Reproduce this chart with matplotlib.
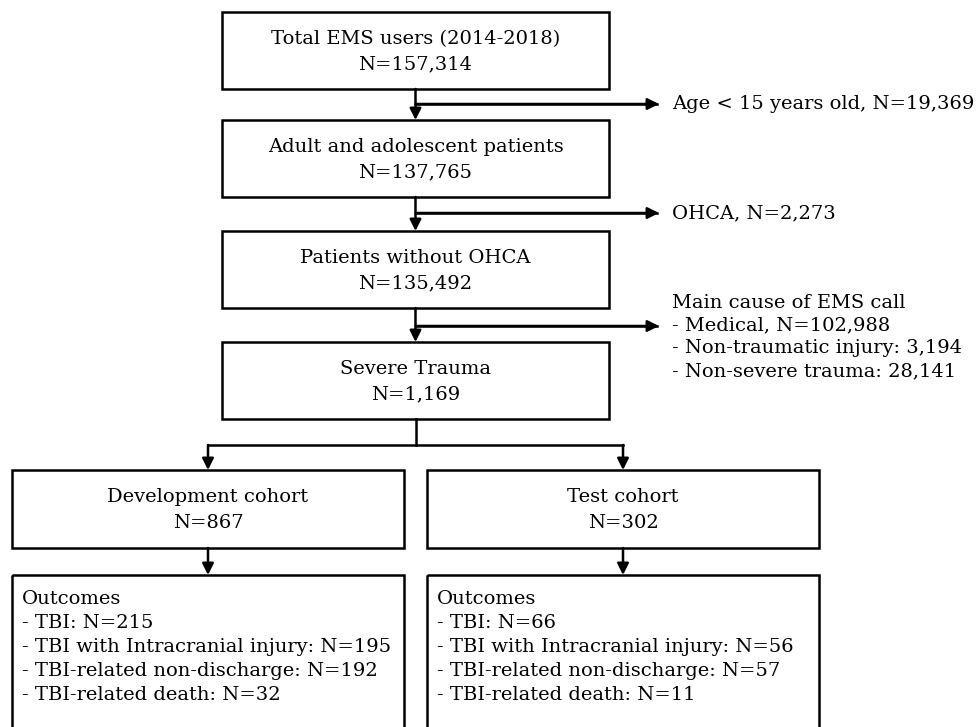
import matplotlib.pyplot as plt
from matplotlib.patches import Rectangle

# 主流程框内容
main_titles = ['Total EMS users (2014-2018)', 'Adult and adolescent patients',
               'Patients without OHCA', 'Severe Trauma']
main_counts = ['N=157,314', 'N=137,765', 'N=135,492', 'N=1,169']

# 排除说明
excluded = ['Age < 15 years old, N=19,369',
            'OHCA, N=2,273',
            'Main cause of EMS call\n- Medical, N=102,988\n'
            '- Non-traumatic injury: 3,194\n- Non-severe trauma: 28,141']

# 队列
cohorts = ['Development cohort', 'Test cohort']
cohort_counts = ['N=867', 'N=302']
outcome_labels = ['TBI', 'TBI with Intracranial injury',
                  'TBI-related non-discharge', 'TBI-related death']
dev_outcomes = [215, 195, 192, 32]
test_outcomes = [66, 56, 57, 11]

plt.rcParams['font.family'] = ['DejaVu Serif']
FS = 14
LW = 1.8

fig = plt.figure(figsize=(9.76, 7.27), dpi=100)
ax = fig.add_axes([0, 0, 1, 1])
ax.set_xlim(0, 976)
ax.set_ylim(727, 0)
ax.axis('off')


def box(x0, y0, x1, y1):
    ax.add_patch(Rectangle((x0, y0), x1 - x0, y1 - y0, fill=False,
                           lw=LW, ec='black', clip_on=False))


def arrow(x0, y0, x1, y1):
    ax.annotate('', xy=(x1, y1), xytext=(x0, y0),
                arrowprops=dict(arrowstyle='-|>', lw=LW, color='black',
                                mutation_scale=17, shrinkA=0, shrinkB=0))


# 主流程
bx0, bx1 = 222, 609
cx = (bx0 + bx1) / 2
tops = [12, 120, 231, 342]
h = 77
branch_y = [104, 213, 326]
for i, (t, n) in enumerate(zip(main_titles, main_counts)):
    y0 = tops[i]
    box(bx0, y0, bx1, y0 + h)
    ax.text(cx, y0 + h / 2 + 1, t + '\n' + n, ha='center', va='center',
            fontsize=FS, linespacing=1.55)
    if i < 3:
        arrow(cx, y0 + h, cx, tops[i + 1])
        ax.plot([cx, 657], [branch_y[i], branch_y[i]], color='black', lw=LW)
        arrow(cx, branch_y[i], 659, branch_y[i])

for i, txt in enumerate(excluded):
    if i < 2:
        ax.text(672, branch_y[i], txt, ha='left', va='center', fontsize=FS)
    else:
        ax.text(672, 294, txt, ha='left', va='top', fontsize=FS,
                linespacing=1.33)

# 分叉
split_y = 445
ax.plot([cx, cx], [tops[3] + h, split_y], color='black', lw=LW)
lefts = [12, 427]
width = 392
centers = [l + width / 2 for l in lefts]
ax.plot([centers[0], centers[1]], [split_y, split_y], color='black', lw=LW)

for j, (name, n, vals) in enumerate(zip(cohorts, cohort_counts,
                                        [dev_outcomes, test_outcomes])):
    l = lefts[j]
    c = centers[j]
    arrow(c, split_y, c, 470)
    box(l, 470, l + width, 548)
    ax.text(c, 510, name + '\n' + n, ha='center', va='center',
            fontsize=FS, linespacing=1.55)
    arrow(c, 548, c, 575)
    box(l, 575, l + width, 740)
    lines = ['Outcomes'] + ['- %s: N=%d' % (lab, v)
                            for lab, v in zip(outcome_labels, vals)]
    ax.text(l + 10, 590, '\n'.join(lines), ha='left', va='top',
            fontsize=FS, linespacing=1.42)

fig.savefig('out.png', dpi=100)
